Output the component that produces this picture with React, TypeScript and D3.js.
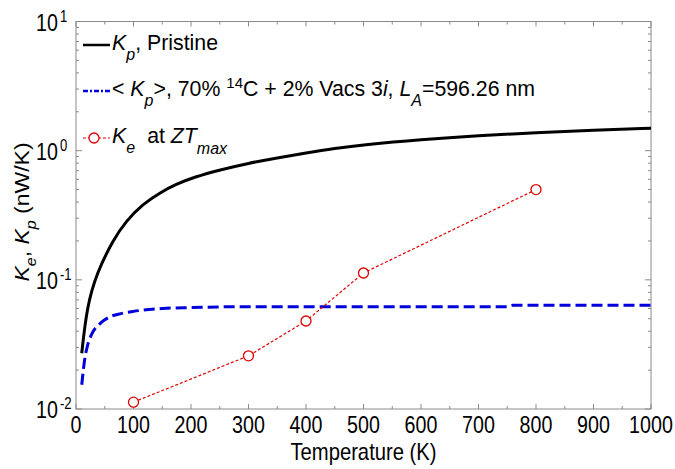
import React from "react";
import * as d3 from "d3";

// values
const pristineT = [10, 19, 36, 65, 87, 116, 145, 174, 206, 250, 300, 350, 400, 450, 500, 600, 700, 800, 900, 1000];
const pristineK = [0.027, 0.062, 0.113, 0.205, 0.285, 0.385, 0.47, 0.55, 0.625, 0.71, 0.8, 0.88, 0.96, 1.04, 1.11, 1.22, 1.31, 1.38, 1.44, 1.49];

const vacsT = [10, 15, 20, 25, 30, 40, 50, 60, 80, 100, 150, 200, 300, 400, 500, 600, 700, 750, 760, 800, 900, 1000];
const vacsK = [0.0154, 0.024, 0.031, 0.036, 0.04, 0.045, 0.049, 0.052, 0.055, 0.057, 0.06, 0.061, 0.062, 0.062, 0.062, 0.062, 0.062, 0.062, 0.0635, 0.0635, 0.0635, 0.0635];

const keT = [100, 300, 400, 500, 800];
const keK = [0.0113, 0.0258, 0.048, 0.113, 0.5];

const xTickLabels = [0, 100, 200, 300, 400, 500, 600, 700, 800, 900, 1000];
const yExponents = [-2, -1, 0, 1];

const W = 675, H = 469;
const left = 76, right = 651, top = 21.5, bottom = 409;

export default function App() {
  const x = d3.scaleLinear().domain([0, 1000]).range([left, right]);
  const y = d3.scaleLog().domain([0.01, 10]).range([bottom, top]);

  const smooth = d3.line<[number, number]>()
    .x((d) => x(d[0]))
    .y((d) => y(d[1]))
    .curve(d3.curveBasis);
  const line = d3.line<[number, number]>()
    .x((d) => x(d[0]))
    .y((d) => y(d[1]))
    .curve(d3.curveMonotoneX);
  const straight = d3.line<[number, number]>().x((d) => x(d[0])).y((d) => y(d[1]));

  const pristine = pristineT.map((t, i) => [t, pristineK[i]] as [number, number]);
  const vacs = vacsT.map((t, i) => [t, vacsK[i]] as [number, number]);
  const ke = keT.map((t, i) => [t, keK[i]] as [number, number]);

  const xMinor = d3.range(0, 1001, 50);
  const yMinor: number[] = [];
  for (let e = -2; e < 1; e++) {
    for (let m = 2; m <= 9; m++) yMinor.push(m * Math.pow(10, e));
  }

  const axisColor = "#8a8a8a";
  const font = "'Liberation Sans', Arial, sans-serif";

  return (
    <svg width={W} height={H} style={{ position: "absolute", left: 0, top: 0, background: "#fff" }} fontFamily={font}>
      <rect x={0} y={0} width={W} height={H} fill="#fff" />
      {/* frame */}
      <rect x={left} y={top} width={right - left} height={bottom - top} fill="none" stroke={axisColor} strokeWidth={1} />

      {/* x ticks, bottom and top, inward */}
      {xMinor.map((t) => {
        const len = t % 100 === 0 ? 5 : 3;
        return (
          <g key={"xt" + t} stroke={axisColor} strokeWidth={1}>
            <line x1={x(t)} x2={x(t)} y1={bottom} y2={bottom - len} />
            <line x1={x(t)} x2={x(t)} y1={top} y2={top + len} />
          </g>
        );
      })}
      {/* y ticks, left and right */}
      {yExponents.map((e) => (
        <g key={"ymaj" + e} stroke={axisColor} strokeWidth={1}>
          <line x1={left} x2={left + 6} y1={y(Math.pow(10, e))} y2={y(Math.pow(10, e))} />
          <line x1={right} x2={right - 6} y1={y(Math.pow(10, e))} y2={y(Math.pow(10, e))} />
        </g>
      ))}
      {yMinor.map((v, i) => (
        <g key={"ymin" + i} stroke={axisColor} strokeWidth={1}>
          <line x1={left} x2={left + 3} y1={y(v)} y2={y(v)} />
          <line x1={right} x2={right - 3} y1={y(v)} y2={y(v)} />
        </g>
      ))}

      {/* x tick labels */}
      {xTickLabels.map((t) => (
        <text key={"xl" + t} transform={`translate(${x(t)},${bottom + 24}) scale(0.82,1)`} textAnchor="middle" fontSize={24} fill="#000">
          {t}
        </text>
      ))}
      {/* y tick labels */}
      {yExponents.map((e) => (
        <g key={"yl" + e}>
          <text transform={`translate(58,${y(Math.pow(10, e)) + 9}) scale(0.82,1)`} textAnchor="end" fontSize={24} fill="#000">10</text>
          <text transform={`translate(60,${y(Math.pow(10, e)) + 0}) scale(0.82,1)`} textAnchor="start" fontSize={16} fill="#000">{e}</text>
        </g>
      ))}

      {/* axis titles */}
      <text transform={`translate(${(left + right) / 2},460) scale(0.88,1)`} textAnchor="middle" fontSize={23} fill="#000">
        Temperature (K)
      </text>
      <text transform="translate(29,212) rotate(-90) scale(1,0.88)" textAnchor="middle" fontSize={23} fill="#000">
        <tspan fontStyle="italic">K</tspan>
        <tspan fontStyle="italic" fontSize={16} dy={8}>e</tspan>
        <tspan dy={-8}>, </tspan>
        <tspan fontStyle="italic">K</tspan>
        <tspan fontStyle="italic" fontSize={16} dy={8}>p</tspan>
        <tspan dy={-8}> (nW/K)</tspan>
      </text>

      {/* data */}
      <path d={smooth(pristine) || ""} fill="none" stroke="#000" strokeWidth={3} />
      <path d={line(vacs) || ""} fill="none" stroke="#0000dd" strokeWidth={3} strokeDasharray="11,5" />
      <path d={straight(ke) || ""} fill="none" stroke="#e00000" strokeWidth={1.2} strokeDasharray="3,2" />
      {ke.map((d, i) => (
        <circle key={"ke" + i} cx={x(d[0])} cy={y(d[1])} r={5} fill="#fff" stroke="#e00000" strokeWidth={1.3} />
      ))}

      {/* legend */}
      <g fontSize={21.3} fill="#000">
        <line x1={83} x2={110} y1={45} y2={45} stroke="#000" strokeWidth={2.5} />
        <text x={112} y={50}>
          <tspan fontStyle="italic">K</tspan>
          <tspan fontStyle="italic" fontSize={16} dy={10}>p</tspan>
          <tspan dy={-10}>, Pristine</tspan>
        </text>

        <line x1={83} x2={110} y1={91} y2={91} stroke="#0000dd" strokeWidth={2.5} strokeDasharray="5,2,2,2" />
        <text x={112} y={96}>
          <tspan>{"< "}</tspan>
          <tspan fontStyle="italic">K</tspan>
          <tspan fontStyle="italic" fontSize={16} dy={10}>p</tspan>
          <tspan dy={-10}>{">, 70% "}</tspan>
          <tspan fontSize={15} dy={-8}>14</tspan>
          <tspan dy={8}>{"C + 2% Vacs 3"}</tspan>
          <tspan fontStyle="italic">i</tspan>
          <tspan>{", "}</tspan>
          <tspan fontStyle="italic">L</tspan>
          <tspan fontStyle="italic" fontSize={16} dy={10}>A</tspan>
          <tspan dy={-10}>=596.26 nm</tspan>
        </text>

        <line x1={83} x2={110} y1={138} y2={138} stroke="#e00000" strokeWidth={1.2} strokeDasharray="3,2" />
        <circle cx={94} cy={138} r={5} fill="#fff" stroke="#e00000" strokeWidth={1.3} />
        <text x={112} y={143}>
          <tspan fontStyle="italic">K</tspan>
          <tspan fontStyle="italic" fontSize={16} dy={10}>e</tspan>
          <tspan dy={-10} dx={12}>at </tspan>
          <tspan fontStyle="italic">ZT</tspan>
          <tspan fontStyle="italic" fontSize={16} dy={11}>max</tspan>
        </text>
      </g>
    </svg>
  );
}
